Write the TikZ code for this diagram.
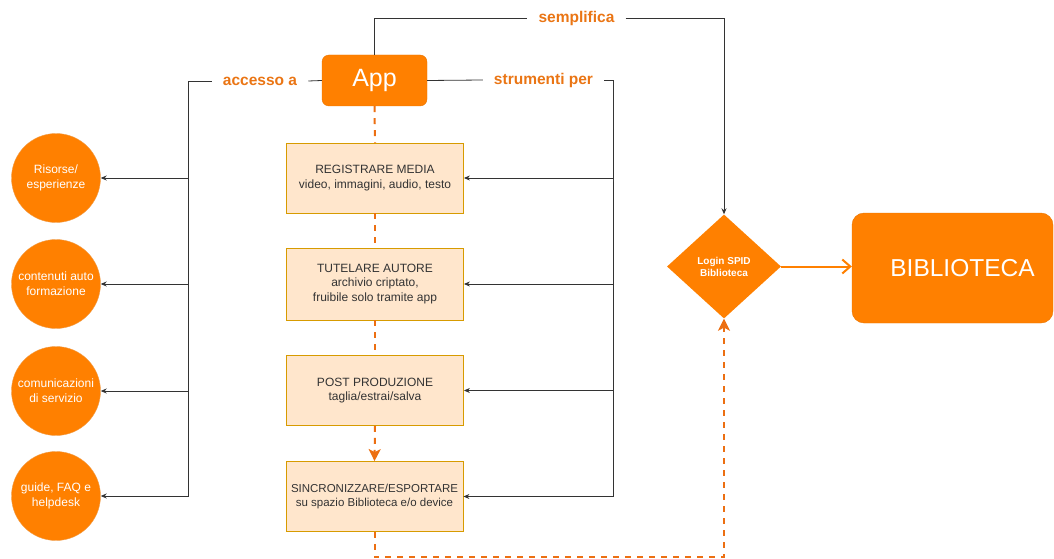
\documentclass[tikz,border=0pt]{standalone}
\usepackage{fontspec}
\setmainfont{Liberation Sans}
\usetikzlibrary{arrows.meta,shapes.geometric}

\definecolor{appOrange}{HTML}{FF8000}
\definecolor{appEdge}{HTML}{E97500}
\definecolor{boxFill}{HTML}{FFE6CC}
\definecolor{boxEdge}{HTML}{D79B00}
\definecolor{labelOrange}{HTML}{EA7514}
\definecolor{lineGrey}{HTML}{333333}
\definecolor{flowOrange}{HTML}{EC6F12}

\begin{document}
\begin{tikzpicture}[x = 1pt, y = -1pt,
	mainbox/.style = {rectangle, rounded corners = 7pt, fill = appOrange, draw = appEdge, text = white},
	topic/.style = {circle, fill = appOrange, draw = appEdge!70, text = white, minimum size = 89pt,
		inner sep = 0pt, align = center, font = \fontsize{12}{15}\selectfont},
	task/.style = {rectangle, fill = boxFill, draw = boxEdge, line width = 0.8pt, minimum width = 177pt,
		minimum height = 70pt, align = center, text = lineGrey, font = \fontsize{12}{14.5}\selectfont},
	edgelabel/.style = {text = labelOrange, font = \bfseries\fontsize{15.5}{18}\selectfont, inner xsep = 11pt},
	link/.style = {draw = lineGrey, line width = 0.8pt},
	linkarrow/.style = {link, -{Stealth[length = 6pt, width = 5pt]}},
	flow/.style = {draw = flowOrange, line width = 2pt, dash pattern = on 6pt off 6pt}]

	\useasboundingbox (0,0) rectangle (1054,559);

	% app and the two buses
	\node[mainbox, minimum width = 105pt, minimum height = 51pt, font = \fontsize{25}{29}\selectfont] (app) at (374.5,80.5) {App};
	\node[edgelabel] (accesso) at (260,81) {accesso a};
	\node[edgelabel] (strumenti) at (543.5,80) {strumenti per};
	\node[edgelabel] (semplifica) at (576.5,18) {semplifica};
	\coordinate (lbus) at (188,81);
	\coordinate (rbus) at (613,81);
	\coordinate (bottom) at (724,557);

	% what the app gives access to
	\node[topic] (risorse) at (56,178) {Risorse/\\esperienze};
	\node[topic] (contenuti) at (56,284) {contenuti auto\\formazione};
	\node[topic] (comunicazioni) at (56,391) {comunicazioni\\di servizio};
	\node[topic] (guide) at (56,496) {guide, FAQ e\\helpdesk};

	% tools
	\node[task] (registrare) at (375,178) {REGISTRARE MEDIA\\video, immagini, audio, testo};
	\node[task, minimum height = 72pt] (tutelare) at (375,284) {TUTELARE AUTORE\\archivio criptato,\\fruibile solo tramite app};
	\node[task] (post) at (375,390.5) {POST PRODUZIONE\\taglia/estrai/salva};
	\node[task, font = \fontsize{11.5}{14.5}\selectfont] (sincronizzare) at (374.5,496.5) {SINCRONIZZARE/ESPORTARE\\su spazio Biblioteca e/o device};

	% login and library
	\node[diamond, fill = appOrange, minimum width = 114pt, minimum height = 104pt, inner sep = 0pt,
		text = white, align = center, font = \bfseries\fontsize{10}{12}\selectfont] (login) at (724,266.5) {Login SPID\\Biblioteca};
	\node[mainbox, rounded corners = 12pt, minimum width = 201pt, minimum height = 110pt,
		font = \fontsize{24.5}{28}\selectfont] (biblioteca) at (952.5,268) {\hspace*{20pt}BIBLIOTECA};

	% connectors
	\draw[link] (app.west) -- (accesso.east);
	\draw[link] (app.east) -- (strumenti.west);
	\draw[link] (app.north) |- (semplifica.west);
	\draw[linkarrow] (semplifica.east) -| (login.north);

	\draw[linkarrow] (accesso.west) -| (lbus) |- (risorse.east);
	\draw[linkarrow] (accesso.west) -| (lbus) |- (contenuti.east);
	\draw[linkarrow] (accesso.west) -| (lbus) |- (comunicazioni.east);
	\draw[linkarrow] (accesso.west) -| (lbus) |- (guide.east);

	\draw[linkarrow] (strumenti.east) -| (rbus) |- (registrare.east);
	\draw[linkarrow] (strumenti.east) -| (rbus) |- (tutelare.east);
	\draw[linkarrow] (strumenti.east) -| (rbus) |- (post.east);
	\draw[linkarrow] (strumenti.east) -| (rbus) |- (sincronizzare.east);

	\draw[flow] (app.south) -- (registrare.north);
	\draw[flow] (registrare.south) -- (tutelare.north);
	\draw[flow] (tutelare.south) -- (post.north);
	\draw[flow, -{Stealth[length = 12pt, width = 12pt, inset = 3pt]}] (post.south) -- (sincronizzare.north);
	\draw[flow, -{Stealth[length = 12pt, width = 12pt, inset = 3pt]}] (sincronizzare.south) |- (bottom) -- (login.south);

	\draw[draw = appOrange, line width = 2pt, -{Straight Barb[length = 8pt, width = 14pt]}] (login.east) -- (login.east -| biblioteca.west);
\end{tikzpicture}
\end{document}
